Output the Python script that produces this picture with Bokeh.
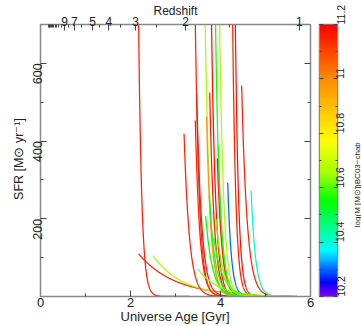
import math
import numpy as np
from bokeh.plotting import figure
from bokeh.models import (Range1d, LinearAxis, FixedTicker, LinearColorMapper,
                          ColumnDataSource, CustomJSTickFormatter, Title)
from bokeh.core.properties import value
from bokeh.transform import linear_cmap
from bokeh.layouts import row
from bokeh.embed import file_html
from bokeh.resources import INLINE

# ---------------- data ----------------
# exponentially declining star-formation histories: SFR = sfr_start * exp(-(t - t_start)/tau)
t_start = [2.127, 3.372, 3.584, 3.732, 3.822, 3.912, 4.217, 4.277,
           2.18, 2.50, 3.19, 3.44, 3.47, 3.76, 3.69, 4.47, 3.93, 3.95,
           4.16, 4.68, 3.67, 3.50, 3.75, 3.85, 3.90]
sfr_start = [1500, 1500, 1500, 1500, 1500, 1500, 1500, 1500,
             110, 105, 419, 453, 523, 525, 463, 543, 355, 388,
             293, 272, 207, 71, 260, 150, 200]
tau = [0.07, 0.09, 0.10, 0.09, 0.09, 0.09, 0.07, 0.07,
       0.80, 0.65, 0.12, 0.10, 0.11, 0.10, 0.10, 0.12, 0.10, 0.10,
       0.08, 0.10, 0.15, 0.45, 0.13, 0.20, 0.15]
t_end = [3.3, 5.5, 5.6, 5.6, 5.7, 5.7, 5.7, 5.7,
         4.8, 5.2, 5.0, 5.5, 5.5, 5.6, 5.6, 5.7, 5.6, 5.6,
         5.5, 5.7, 5.5, 5.6, 5.6, 5.6, 5.7]
log_mass = [11.15, 11.15, 10.66, 11.18, 10.56, 10.66, 11.15, 11.17,
            11.15, 10.66, 11.15, 11.15, 11.16, 11.16, 10.98, 11.15, 11.15, 10.57,
            10.30, 10.42, 10.55, 10.64, 10.56, 10.58, 10.62]

x_ticks = [0, 2, 4, 6]
x_minor = [1, 3, 5]
y_ticks = [200, 400, 600]
y_minor = [100, 300, 500]
z_major = [1, 2, 3, 4, 5, 7, 9]
z_minor = [1.5, 2.5, 3.5, 4.5, 6, 8, 10, 11, 12, 13, 14, 15, 16, 17, 18, 19, 20]
cb_ticks = [10.2, 10.4, 10.6, 10.8, 11.0, 11.2]
cb_labels = ["10.2", "10.4", "10.6", "10.8", "11", "11.2"]
cb_minor = [10.3, 10.5, 10.7, 10.9, 11.1]
mass_lo, mass_hi = 10.2, 11.2
cb_title = "log(M [M\u2299])BC03\u2212chab"

# ---------------- helpers ----------------
def age_gyr(z, H0=70.0, Om=0.3):
    OL = 1.0 - Om
    tH = 977.8 / H0
    return 2.0 / (3.0 * math.sqrt(OL)) * tH * math.asinh(math.sqrt(OL / Om) * (1 + z) ** -1.5)

# rainbow palette (purple -> red)
stop_v = [10.2, 10.25, 10.37, 10.55, 10.65, 10.77, 11.0, 11.2]
stop_c = [(130, 0, 255), (0, 0, 255), (0, 255, 255), (0, 255, 0),
          (160, 255, 0), (255, 255, 0), (255, 140, 0), (255, 0, 0)]
vals = np.linspace(mass_lo, mass_hi, 256)
palette = []
for v in vals:
    r = int(round(np.interp(v, stop_v, [c[0] for c in stop_c])))
    g = int(round(np.interp(v, stop_v, [c[1] for c in stop_c])))
    b = int(round(np.interp(v, stop_v, [c[2] for c in stop_c])))
    palette.append("#%02x%02x%02x" % (r, g, b))

xs, ys = [], []
for ts, s0, ta, te in zip(t_start, sfr_start, tau, t_end):
    t = np.linspace(ts, te, 800)
    xs.append(t.tolist())
    ys.append((s0 * np.exp(-(t - ts) / ta)).tolist())
src = ColumnDataSource(dict(xs=xs, ys=ys, m=log_mass))

FONT = "Liberation Sans"
TXT = "#222222"
GRAY = "#888888"
TOP, BOTTOM = 24, 30
FIG_H = 326

def style_axis(ax, fs="12px", lfs="12.5px"):
    ax.axis_line_color = GRAY
    ax.major_tick_line_color = "#444444"
    ax.minor_tick_line_color = "#444444"
    ax.major_tick_out = 0
    ax.major_tick_in = 6
    ax.minor_tick_out = 0
    ax.minor_tick_in = 3
    ax.major_label_text_font = FONT
    ax.major_label_text_font_size = fs
    ax.major_label_text_color = TXT
    ax.axis_label_text_font = FONT
    ax.axis_label_text_font_size = lfs
    ax.axis_label_text_font_style = "normal"
    ax.axis_label_text_color = TXT
    ax.major_label_standoff = 2
    ax.axis_label_standoff = 1

blank = CustomJSTickFormatter(code="return '';")

def nearest_label_formatter(ticks, labels):
    return CustomJSTickFormatter(args=dict(vals=ticks, labs=labels), code="""
let best = ''; let d = 1e9;
for (let i = 0; i < vals.length; i++) {
  const dd = Math.abs(vals[i] - tick);
  if (dd < d) { d = dd; best = labs[i]; }
}
return best;
""")

# ---------------- main figure ----------------
p = figure(width=316, height=FIG_H, x_range=Range1d(0, 6), y_range=Range1d(0, 700),
           output_backend="svg", toolbar_location=None,
           x_axis_location=None, y_axis_location=None,
           min_border_left=40, min_border_right=6,
           min_border_top=TOP, min_border_bottom=BOTTOM)
p.grid.visible = False
p.outline_line_color = GRAY
p.outline_line_width = 1.5
p.background_fill_color = "white"
p.border_fill_color = "white"

p.multi_line(xs="xs", ys="ys", source=src, line_width=1.25,
             line_color=linear_cmap("m", palette, mass_lo, mass_hi))

bottom = LinearAxis(ticker=FixedTicker(ticks=x_ticks, minor_ticks=x_minor),
                    axis_label="Universe Age [Gyr]")
style_axis(bottom, "13px", "13px")
bottom.major_label_standoff = 1
bottom.axis_label_standoff = -1
p.add_layout(bottom, "below")

left = LinearAxis(ticker=FixedTicker(ticks=y_ticks, minor_ticks=y_minor),
                  major_label_orientation=math.pi / 2)
style_axis(left, "12.5px", "12.5px")
left.major_label_standoff = 3
p.add_layout(left, "left")

ytitle = Title(text="SFR [M\u2299 yr\u207b\u00b9]", align="center", offset=14,
               text_font=FONT, text_font_size="12.5px", text_font_style="normal",
               text_color=TXT, standoff=0)
p.add_layout(ytitle, "left")

right = LinearAxis(ticker=FixedTicker(ticks=y_ticks, minor_ticks=y_minor), formatter=blank)
style_axis(right)
right.major_label_standoff = 0
p.add_layout(right, "right")

z_ticks = [round(age_gyr(z), 4) for z in z_major]
z_mticks = [round(age_gyr(z), 4) for z in z_minor]
top = LinearAxis(ticker=FixedTicker(ticks=z_ticks, minor_ticks=z_mticks),
                 formatter=nearest_label_formatter(z_ticks, [str(z) for z in z_major]),
                 axis_label="Redshift")
style_axis(top, "12px", "12px")
top.major_label_standoff = -1
top.axis_label_standoff = -4
p.add_layout(top, "above")

# ---------------- colour bar figure ----------------
cb = figure(width=37, height=FIG_H, x_range=Range1d(0, 1), y_range=Range1d(mass_lo, mass_hi),
            output_backend="svg", toolbar_location=None,
            x_axis_location=None, y_axis_location=None,
            min_border_left=3, min_border_right=16,
            min_border_top=TOP, min_border_bottom=BOTTOM)
cb.grid.visible = False
cb.outline_line_color = GRAY
cb.outline_line_width = 1.5
mapper = LinearColorMapper(palette=palette, low=mass_lo, high=mass_hi)
grad = np.linspace(mass_lo, mass_hi, 256).reshape(256, 1)
cb.image(image=[grad], x=0, y=mass_lo, dw=1, dh=mass_hi - mass_lo, color_mapper=mapper)

cbr = LinearAxis(ticker=FixedTicker(ticks=cb_ticks, minor_ticks=cb_minor),
                 formatter=nearest_label_formatter(cb_ticks, cb_labels),
                 major_label_orientation=math.pi / 2)
style_axis(cbr, "10.5px", "8px")
cbr.major_tick_in = 4
cbr.minor_tick_in = 2
cbr.major_label_standoff = 3
cb.add_layout(cbr, "right")

cbl = LinearAxis(ticker=FixedTicker(ticks=cb_ticks, minor_ticks=cb_minor), formatter=blank)
style_axis(cbl)
cbl.major_tick_in = 4
cbl.minor_tick_in = 2
cbl.major_label_standoff = 0
cb.add_layout(cbl, "left")

# ---------------- colour-bar title strip ----------------
tw = 361 - 316 - 37
tt = figure(width=tw, height=FIG_H, x_range=Range1d(0, tw), y_range=Range1d(0, FIG_H),
            output_backend="svg", toolbar_location=None,
            x_axis_location=None, y_axis_location=None,
            min_border_left=0, min_border_right=0, min_border_top=0, min_border_bottom=0)
tt.grid.visible = False
tt.outline_line_color = None
tt.text(x=[tw / 2 - 0.5], y=[FIG_H - 192], text=[cb_title], angle=math.pi / 2,
        text_align="center", text_baseline="middle",
        text_font=value(FONT), text_font_size="8px", text_color=TXT)

layout = row(p, cb, tt, spacing=0)
open("out.html", "w").write(file_html(layout, INLINE))
